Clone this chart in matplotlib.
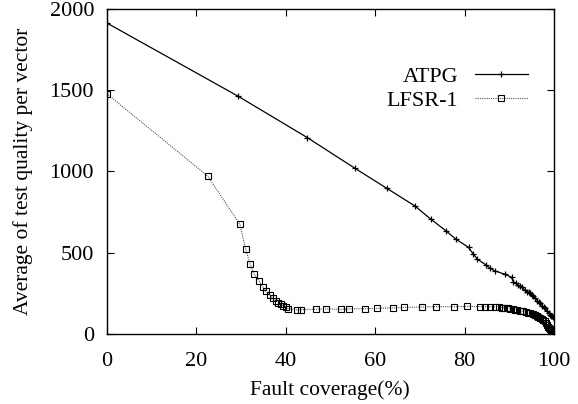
"""Average test quality per vector vs. fault coverage: ATPG vs LFSR-1."""

import matplotlib

matplotlib.use("Agg")
import matplotlib.pyplot as plt

plt.rcParams["font.family"] = ["Liberation Serif", "DejaVu Serif"]

# ATPG curve (fault coverage %, avg quality)
atpg_x = [0, 29.3, 44.9, 55.5, 62.6, 68.9, 72.5, 75.9, 78.1, 80.9, 82.0, 82.9,
          84.8, 85.7, 86.8, 89.1, 90.5, 90.9, 91.5, 92.0, 92.5, 92.8, 93.5,
          94.0, 94.3, 94.6, 95.0, 95.2, 95.8, 96.3, 96.6, 96.9, 97.4, 97.7,
          98.0, 98.5, 98.8, 99.1, 99.3, 99.5, 99.8]
atpg_y = [1915, 1465, 1208, 1020, 897, 788, 706, 634, 583, 533, 490, 460,
          425, 404, 388, 367, 349, 322, 312, 302, 293, 287, 271,
          261, 256, 250, 241, 235, 220, 205, 197, 189, 174, 166,
          158, 140, 130, 117, 112, 110, 103]

# LFSR-1 curve
lfsr_x = [0, 22.6, 29.8, 31.1, 32.1, 33.0, 34.1, 34.9, 35.6, 36.5, 37.1, 37.8,
          38.4, 39.0, 39.5, 40.0, 40.6, 42.5, 43.5, 46.8, 49.0, 52.4, 54.2,
          57.8, 60.4, 64.1, 66.5, 70.6, 73.6, 77.7, 80.6, 83.5, 84.6, 85.7,
          86.8, 87.6, 88.3, 88.7, 89.4, 89.8, 90.2, 90.9, 91.3, 91.7, 92.4,
          92.8, 93.1, 93.8, 94.2, 94.6, 95.3, 95.7, 96.1, 96.5, 96.9, 97.3,
          97.6, 97.9, 98.2, 98.5, 98.7, 98.9, 99.1, 99.3, 99.5, 99.7, 99.8,
          99.9, 100]
lfsr_y = [1480, 972, 675, 523, 429, 369, 326, 291, 265, 240, 223, 205,
          193, 183, 172, 164, 156, 148, 150, 152, 154, 152, 154,
          156, 158, 160, 164, 166, 168, 168, 170, 168, 168, 168,
          166, 165, 163, 162, 159, 158, 156, 152, 150, 148, 144,
          142, 140, 134, 131, 127, 120, 116, 111, 106, 100, 94,
          86, 78, 68, 56, 45, 38, 30, 22, 12, 8, 5,
          2, 0]

x_ticks = [0, 20, 40, 60, 80, 100]
y_ticks = [0, 500, 1000, 1500, 2000]

fig = plt.figure(figsize=(5.78, 4.04), dpi=100)
ax = fig.add_axes([0.1843, 0.1733, 0.7742, 0.8044])

ax.plot(atpg_x, atpg_y, color="black", lw=0.9, marker="+", ms=5, mew=0.9,
        label="ATPG")
ax.plot(lfsr_x, lfsr_y, color="#555555", lw=0.8, ls=(0, (1, 1)), marker="s",
        ms=5, mfc="none", mec="black", mew=0.8, label="LFSR-1")

ax.set_xlim(0, 100)
ax.set_ylim(0, 2000)
ax.set_xticks(x_ticks)
ax.set_yticks(y_ticks)
ax.tick_params(direction="in", length=5, width=0.8, top=True, right=True,
               labelsize=16)
ax.tick_params(axis="y", pad=9)
ax.tick_params(axis="x", pad=13)
for s in ax.spines.values():
    s.set_linewidth(1.0)

ax.set_xlabel("Fault coverage(%)", fontsize=15.5, labelpad=7)
ax.set_ylabel("Average of test quality per vector", fontsize=15.5,
              labelpad=12)

ax.legend(loc="upper right", bbox_to_anchor=(0.962, 0.85), frameon=False,
          markerfirst=False, fontsize=16, handlelength=2.4, handletextpad=0.75,
          labelspacing=0.15, borderaxespad=0)

fig.savefig("out.png", dpi=100)
